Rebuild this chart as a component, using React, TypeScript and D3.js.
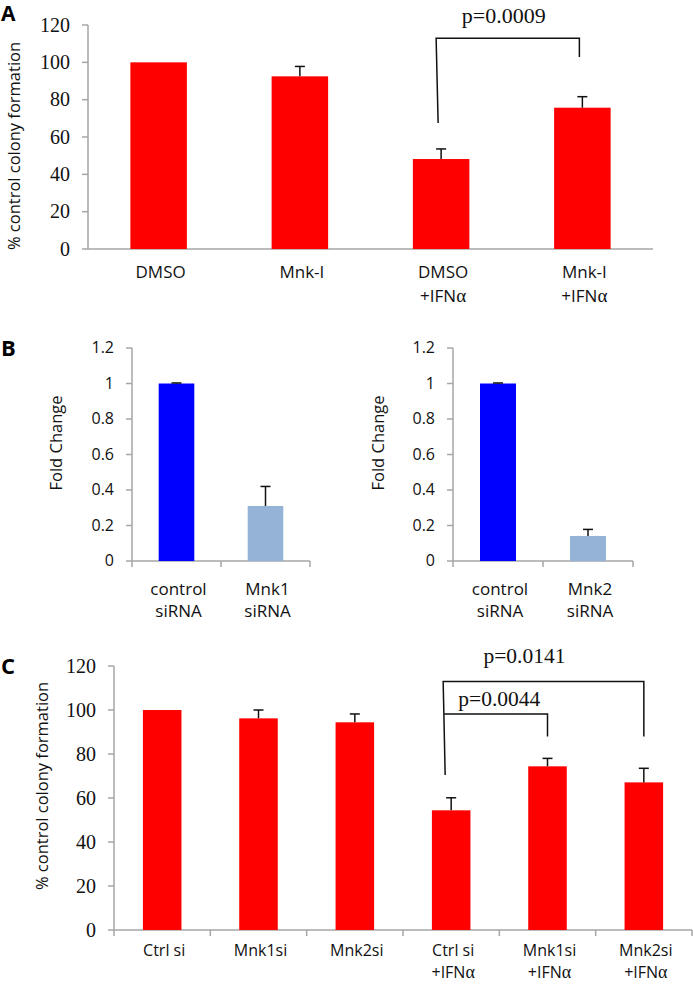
import React from "react";
import * as d3 from "d3";

// ---------- DATA ----------
const catsA = ["DMSO|", "Mnk-I|", "DMSO|+IFNα", "Mnk-I|+IFNα"];
const valsA = [100, 92.5, 48.2, 75.7];
const errsA = [0, 5.3, 5.4, 5.9];
const ticksA = [0, 20, 40, 60, 80, 100, 120];

const catsB1 = ["control|siRNA", "Mnk1|siRNA"];
const valsB1 = [1.0, 0.31];
const errsB1 = [0.003, 0.11];
const catsB2 = ["control|siRNA", "Mnk2|siRNA"];
const valsB2 = [1.0, 0.141];
const errsB2 = [0.003, 0.037];
const ticksB = [0, 0.2, 0.4, 0.6, 0.8, 1, 1.2];
const colorsB = ["#0000ff", "#95b3d7"];

const catsC = ["Ctrl si|", "Mnk1si|", "Mnk2si|", "Ctrl si|+IFNα", "Mnk1si|+IFNα", "Mnk2si|+IFNα"];
const valsC = [100, 96.2, 94.4, 54.4, 74.4, 67.1];
const errsC = [0, 3.8, 3.8, 5.7, 3.6, 6.4];
const ticksC = [0, 20, 40, 60, 80, 100, 120];

const AXIS = "#a6a6a6";
const SANS = "'Open Sans', sans-serif";
const SERIF = "'Liberation Serif', 'Times New Roman', serif";

function Label({ x, y1, y2, text, size }: { x: number; y1: number; y2: number; text: string; size: number }) {
  const [l1, l2] = text.split("|");
  const renderLine = (s: string, y: number) => {
    if (!s) return null;
    const idx = s.indexOf("α");
    if (idx < 0)
      return (
        <text x={x} y={y} textAnchor="middle" fontFamily={SANS} fontSize={size} fill="#111">
          {s}
        </text>
      );
    return (
      <text x={x} y={y} textAnchor="middle" fontFamily={SANS} fontSize={size} fill="#111">
        {s.slice(0, idx)}
        <tspan fontFamily={SERIF} fontSize={size + 2}>α</tspan>
      </text>
    );
  };
  return (
    <g>
      {renderLine(l1, y1)}
      {renderLine(l2, y2)}
    </g>
  );
}

type PanelProps = {
  cats: string[];
  vals: number[];
  errs: number[];
  ticks: number[];
  colors: string[];
  x0: number;
  x1: number;
  yBottom: number;
  yTop: number;
  yMax: number;
  pad: number;
  tickFont: string;
  tickSize: number;
  tickFmt: (v: number) => string;
  title: string;
  titleX: number;
  titleY: number;
  xTicks: boolean;
  lab1: number;
  lab2: number;
  labSize: number;
};

function Panel(p: PanelProps) {
  const x = d3.scaleBand<string>().domain(p.cats).range([p.x0, p.x1]).paddingInner(p.pad).paddingOuter(p.pad / 2);
  const y = d3.scaleLinear().domain([0, p.yMax]).range([p.yBottom, p.yTop]);
  const step = x.step();
  const bw = x.bandwidth();
  return (
    <g>
      {/* y axis */}
      <line x1={p.x0} x2={p.x0} y1={p.yTop} y2={p.yBottom} stroke={AXIS} strokeWidth={1.5} />
      {p.ticks.map((t) => (
        <g key={t}>
          <line x1={p.x0 - 6} x2={p.x0} y1={y(t)} y2={y(t)} stroke={AXIS} strokeWidth={1.5} />
          <text
            x={p.x0 - 18}
            y={y(t) + p.tickSize * 0.33}
            textAnchor="end"
            fontFamily={p.tickFont}
            fontSize={p.tickSize}
            fill="#111"
          >
            {p.tickFmt(t)}
          </text>
        </g>
      ))}
      {/* x axis */}
      <line x1={p.x0} x2={p.x1} y1={p.yBottom} y2={p.yBottom} stroke={AXIS} strokeWidth={1.5} />
      {p.xTicks &&
        d3.range(p.cats.length + 1).map((i) => (
          <line
            key={i}
            x1={p.x0 + i * step}
            x2={p.x0 + i * step}
            y1={p.yBottom}
            y2={p.yBottom + 6}
            stroke={AXIS}
            strokeWidth={1.5}
          />
        ))}
      {/* bars */}
      {p.cats.map((c, i) => {
        const bx = x(c)!;
        const cx = bx + bw / 2;
        return (
          <g key={c}>
            <rect x={bx} y={y(p.vals[i])} width={bw} height={p.yBottom - y(p.vals[i])} fill={p.colors[i % p.colors.length]} />
            {p.errs[i] > 0 && (
              <g stroke="#111" strokeWidth={1.5}>
                <line x1={cx} x2={cx} y1={y(p.vals[i])} y2={y(p.vals[i] + p.errs[i])} />
                <line x1={cx - 5} x2={cx + 5} y1={y(p.vals[i] + p.errs[i])} y2={y(p.vals[i] + p.errs[i])} />
              </g>
            )}
            <Label x={cx + 2} y1={p.lab1} y2={p.lab2} text={c} size={p.labSize} />
          </g>
        );
      })}
      {/* y title */}
      <text
        transform={`translate(${p.titleX},${p.titleY}) rotate(-90)`}
        textAnchor="middle"
        fontFamily={SANS}
        fontSize={16.5}
        fill="#111"
      >
        {p.title}
      </text>
    </g>
  );
}

export default function App() {
  // scales for brackets (same as panels)
  const xA = d3.scaleBand<string>().domain(catsA).range([88, 653]).paddingInner(0.6).paddingOuter(0.3);
  const yA = d3.scaleLinear().domain([0, 120]).range([249, 25]);
  const xC = d3.scaleBand<string>().domain(catsC).range([114, 692]).paddingInner(0.6).paddingOuter(0.3);
  const yC = d3.scaleLinear().domain([0, 120]).range([930, 666]);
  const cA = (i: number) => xA(catsA[i])! + xA.bandwidth() / 2;
  const cC = (i: number) => xC(catsC[i])! + xC.bandwidth() / 2;

  return (
    <svg width={693} height={984} style={{ position: "absolute", left: 0, top: 0, background: "#fff" }}>
      <rect width={693} height={984} fill="#fff" />
      {/* Panel letters */}
      <text x={1} y={21} fontFamily={SANS} fontWeight="bold" fontSize={21} fill="#000">A</text>
      <text x={1} y={356} fontFamily={SANS} fontWeight="bold" fontSize={22} fill="#000">B</text>
      <text x={1} y={674} fontFamily={SANS} fontWeight="bold" fontSize={22} fill="#000">C</text>

      <Panel
        cats={catsA} vals={valsA} errs={errsA} ticks={ticksA} colors={["#ff0000"]}
        x0={88} x1={653} yBottom={249} yTop={25} yMax={120} pad={0.6}
        tickFont={SERIF} tickSize={20} tickFmt={(v) => String(v)}
        title="% control colony formation" titleX={20} titleY={146} xTicks={false} lab1={278} lab2={302} labSize={17}
      />
      {/* bracket A */}
      <g stroke="#111" strokeWidth={1.5} fill="none">
        <polyline points={`${cA(2) - 3},${yA(67.5)} ${cA(2) - 5},${yA(112.9)} ${cA(3) - 3},${yA(112.9)} ${cA(3) - 3},${yA(102.8)}`} />
      </g>
      <text x={(cA(2) + cA(3)) / 2 - 8} y={23} textAnchor="middle" fontFamily={SERIF} fontSize={22} fill="#111">p=0.0009</text>

      <Panel
        cats={catsB1} vals={valsB1} errs={errsB1} ticks={ticksB} colors={colorsB}
        x0={132} x1={310} yBottom={561} yTop={348} yMax={1.2} pad={0.6}
        tickFont={SANS} tickSize={16} tickFmt={(v) => String(v)}
        title="Fold Change" titleX={62} titleY={443} xTicks={true} lab1={595} lab2={617} labSize={17}
      />
      <Panel
        cats={catsB2} vals={valsB2} errs={errsB2} ticks={ticksB} colors={colorsB}
        x0={453} x1={633} yBottom={561} yTop={348} yMax={1.2} pad={0.6}
        tickFont={SANS} tickSize={16} tickFmt={(v) => String(v)}
        title="Fold Change" titleX={384} titleY={443} xTicks={true} lab1={595} lab2={617} labSize={17}
      />

      <Panel
        cats={catsC} vals={valsC} errs={errsC} ticks={ticksC} colors={["#ff0000"]}
        x0={114} x1={692} yBottom={930} yTop={666} yMax={120} pad={0.6}
        tickFont={SERIF} tickSize={20} tickFmt={(v) => String(v)}
        title="% control colony formation" titleX={48} titleY={786} xTicks={true} lab1={956} lab2={978} labSize={16}
      />
      {/* brackets C */}
      <g stroke="#111" strokeWidth={1.5} fill="none">
        <polyline points={`${cC(3) - 6},${yC(70.5)} ${cC(3) - 8},${yC(112.9)} ${cC(5)},${yC(112.9)} ${cC(5)},${yC(87.9)}`} />
        <polyline points={`${cC(3) - 7},${yC(98.2)} ${cC(4)},${yC(98.2)} ${cC(4)},${yC(87.9)}`} />
      </g>
      <text x={(cC(3) + cC(5)) / 2 - 23} y={663} textAnchor="middle" fontFamily={SERIF} fontSize={21.5} fill="#111">p=0.0141</text>
      <text x={(cC(3) + cC(4)) / 2} y={706} textAnchor="middle" fontFamily={SERIF} fontSize={21.5} fill="#111">p=0.0044</text>
    </svg>
  );
}
